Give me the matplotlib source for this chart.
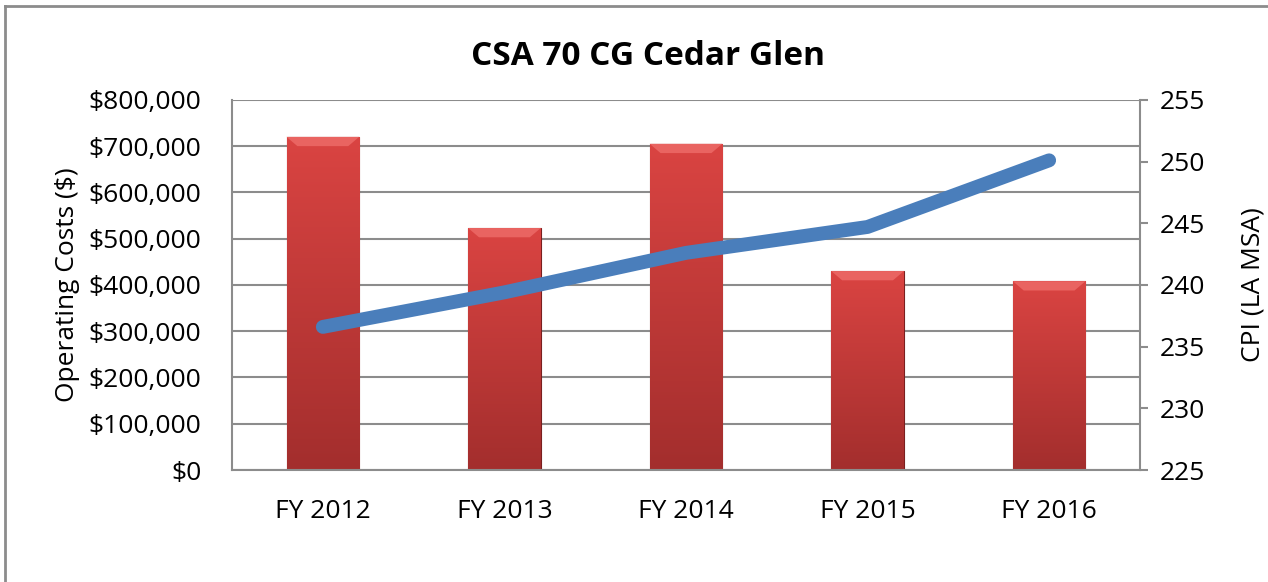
import numpy as np
import matplotlib.pyplot as plt
from matplotlib.colors import LinearSegmentedColormap
from matplotlib.ticker import FuncFormatter
from matplotlib.lines import Line2D

plt.rcParams['font.family'] = ['Open Sans', 'DejaVu Sans']

# data
years = ['FY 2012', 'FY 2013', 'FY 2014', 'FY 2015', 'FY 2016']
costs = [720000, 523000, 705000, 430000, 408000]
cpi = [236.6, 239.4, 242.6, 244.7, 250.1]

grid_col = '#8c8c8c'
fs = 19

fig = plt.figure(figsize=(12.68, 5.82), dpi=100)
ax = fig.add_axes([0.183, 0.1924, 0.716, 0.636])
x = np.arange(len(years))

bars = ax.bar(x, costs, width=0.4, color='#c43d3b', edgecolor='#7a1f1f', linewidth=0.8, zorder=2)

# vertical shading on each bar (light top, dark bottom) plus a top bevel
cm = LinearSegmentedColormap.from_list('r', ['#da4442', '#a32e2d'])
grad = np.linspace(0, 1, 256).reshape(-1, 1)
for b in bars:
    x0, y0 = b.get_x(), b.get_y()
    w, h = b.get_width(), b.get_height()
    im = ax.imshow(grad, cmap=cm, extent=[x0, x0 + w, y0, y0 + h],
                   origin='upper', aspect='auto', zorder=2.5)
    im.set_clip_path(b)
    bev = 20000
    ax.fill([x0, x0 + w, x0 + w * 0.85, x0 + w * 0.15],
            [y0 + h, y0 + h, y0 + h - bev, y0 + h - bev],
            color='#e96461', lw=0, zorder=2.6)

ax.set_xlim(-0.5, len(years) - 0.5)
ax.set_ylim(0, 800000)
ax.set_yticks(np.arange(0, 800001, 100000))
ax.yaxis.set_major_formatter(FuncFormatter(lambda v, p: '${:,.0f}'.format(v)))
ax.set_xticks(x)
ax.set_xticklabels(years)
ax.grid(axis='y', color=grid_col, linewidth=1.5, zorder=0)
ax.set_axisbelow(True)
ax.tick_params(axis='x', length=0, pad=21, labelsize=fs)
ax.tick_params(axis='y', length=0, pad=22, labelsize=fs)
for s in ['top', 'right']:
    ax.spines[s].set_visible(False)
for s in ['left', 'bottom']:
    ax.spines[s].set_color(grid_col)
    ax.spines[s].set_linewidth(1.5)
ax.set_ylabel('Operating Costs ($)', fontsize=fs, labelpad=6)

ax2 = ax.twinx()
ax2.plot(x, cpi, color='#4a7ebb', linewidth=10, solid_capstyle='round', solid_joinstyle='round', zorder=3)
ax2.set_ylim(225, 255)
ax2.set_yticks(np.arange(225, 256, 5))
ax2.tick_params(axis='y', length=6, width=1.5, color=grid_col, pad=8, labelsize=fs)
for s in ['top', 'left', 'bottom']:
    ax2.spines[s].set_visible(False)
ax2.spines['right'].set_color(grid_col)
ax2.spines['right'].set_linewidth(1.5)
ax2.set_ylabel('CPI (LA MSA)', fontsize=fs, labelpad=26)

fig.text(0.511, 0.903, 'CSA 70 CG Cedar Glen', ha='center', va='center', fontsize=24, fontweight='bold')

# outer chart frame (top and left edges visible)
fig.add_artist(Line2D([5 / 1268, 1], [1 - 6 / 582, 1 - 6 / 582], color='#8c8c8c', linewidth=2))
fig.add_artist(Line2D([5 / 1268, 5 / 1268], [0, 1 - 6 / 582], color='#8c8c8c', linewidth=2))

fig.savefig('out.png', dpi=100)
